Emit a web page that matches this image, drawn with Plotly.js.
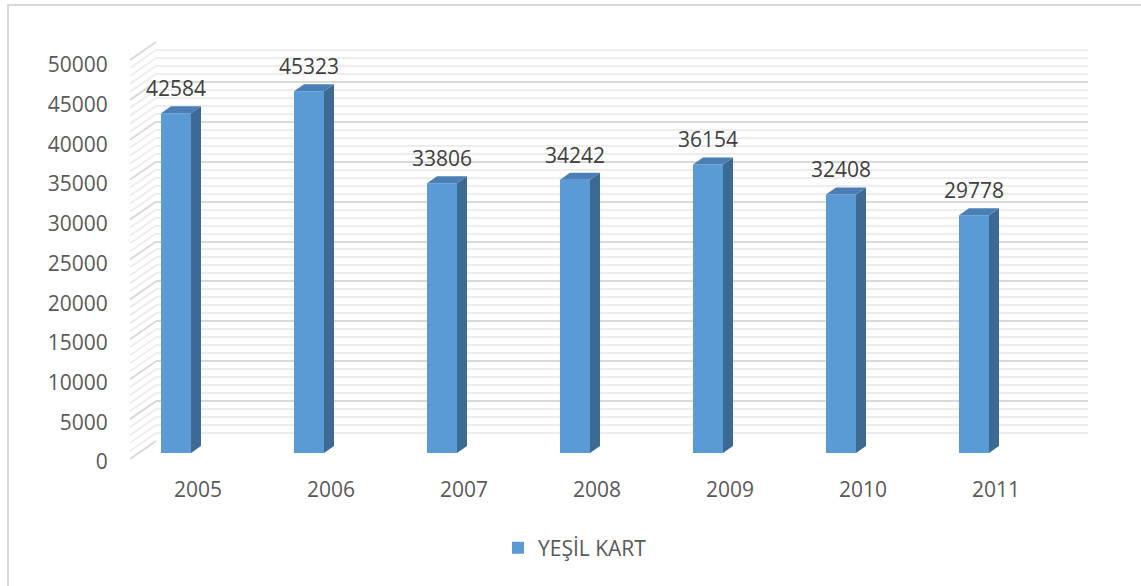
<!DOCTYPE html>
<html>
<head>
<meta charset="utf-8">
<script src="https://cdn.plot.ly/plotly-3.0.1.min.js"></script>
<style>html,body{margin:0;padding:0;background:#fff;}#chart{width:1141px;height:586px;}</style>
</head>
<body>
<div id="chart"></div>
<script>
// ---- data ----
const years = ['2005', '2006', '2007', '2008', '2009', '2010', '2011'];
const values = [42584, 45323, 33806, 34242, 36154, 32408, 29778];
const seriesName = 'YEŞİL KART';
const yMax = 50000;
const majorStep = 5000;
const minorStep = 1000;

// ---- geometry (pixels) ----
const W = 1141, H = 586;
const catStep = 133;          // px per category
const barCenter0 = 176;       // px of first bar centre (front face)
const labelCenter0 = 198;     // px of first category label
const barPx = 30;             // front face width
const depthX = 10, depthY = 7;// bar depth offsets (px)
const barBase = 453, barTop = 54;       // bar plane: 0 and yMax
const wallBase = 441, wallTop = 42;     // back wall
const wallLeft = 156, wallRight = 1088;
const frontBase = 462, frontTop = 65;   // front plane (tick labels)
const wallDX = -26, wallDY = 18;        // left wall depth

const fy = p => 1 - p / H;
const fx = p => p / W;

const unitX = 1 / catStep;
const unitY = yMax / (barBase - barTop);
const xs = years.map((_, i) => i);
const bw = barPx * unitX;
const dxD = depthX * unitX, dyD = depthY * unitY;

const traces = [];
// back wall subplot (drawn first, underneath)
traces.push({type: 'scatter', x: [], y: [], xaxis: 'x', yaxis: 'y', showlegend: false, hoverinfo: 'skip'});
// bars
traces.push({
  type: 'bar', x: xs, y: values, name: seriesName,
  width: bw, marker: {color: '#5B9BD5'},
  xaxis: 'x2', yaxis: 'y2', hoverinfo: 'skip'
});
// label axes
traces.push({type: 'scatter', x: [], y: [], xaxis: 'x3', yaxis: 'y3', showlegend: false, hoverinfo: 'skip'});

const shapes = [];
// outer border
shapes.push({type: 'rect', xref: 'paper', yref: 'paper', x0: fx(8), x1: fx(1150), y0: fy(5), y1: fy(600),
  line: {color: '#d9d9d9', width: 2}, layer: 'below'});
// left wall diagonals (gridlines of the side wall)
for (let v = 0; v <= yMax; v += minorStep) {
  const major = v % majorStep === 0;
  const py = wallBase - v * (wallBase - wallTop) / yMax;
  shapes.push({type: 'line', xref: 'paper', yref: 'paper',
    x0: fx(wallLeft), y0: fy(py), x1: fx(wallLeft + wallDX), y1: fy(py + wallDY),
    line: {color: major ? '#d9d9d9' : '#ededed', width: 2}, layer: 'below'});
}
// bar 3D faces
values.forEach((v, i) => {
  const xl = i - bw / 2, xr = i + bw / 2;
  shapes.push({type: 'path', xref: 'x2', yref: 'y2', layer: 'above',
    path: `M${xr},0 L${xr + dxD},${dyD} L${xr + dxD},${v + dyD} L${xr},${v} Z`,
    fillcolor: '#3D6A92', line: {width: 0}});
  shapes.push({type: 'path', xref: 'x2', yref: 'y2', layer: 'above',
    path: `M${xl},${v} L${xl + dxD},${v + dyD} L${xr + dxD},${v + dyD} L${xr},${v} Z`,
    fillcolor: '#4A7EB4', line: {width: 0}});
});

const annotations = values.map((v, i) => ({
  xref: 'x2', yref: 'y2', x: i, y: v, text: String(v), showarrow: false,
  yanchor: 'middle', yshift: 25, font: {family: 'Open Sans', size: 21, color: '#404040'}
}));

const font = {family: 'Open Sans', size: 21, color: '#595959'};
const layout = {
  width: W, height: H,
  margin: {l: 0, r: 0, t: 0, b: 0},
  paper_bgcolor: '#ffffff', plot_bgcolor: 'rgba(0,0,0,0)',
  font: font,
  showlegend: true,
  legend: {orientation: 'h', x: fx(575), xanchor: 'center', y: fy(548), yanchor: 'middle',
    font: font, bgcolor: 'rgba(0,0,0,0)'},
  // back wall
  xaxis: {domain: [fx(wallLeft), fx(wallRight)], range: [0, 1], anchor: 'y',
    showgrid: false, zeroline: false, showticklabels: false, showline: false, ticks: '', fixedrange: true},
  yaxis: {domain: [fy(wallBase), fy(wallTop)], range: [0, yMax], anchor: 'x',
    dtick: majorStep, tick0: 0, showgrid: true, gridcolor: '#d9d9d9', gridwidth: 2,
    minor: {dtick: minorStep, tick0: 0, showgrid: true, gridcolor: '#ededed', gridwidth: 2},
    zeroline: false, showticklabels: false, showline: false, ticks: '', fixedrange: true},
  // bar plane
  xaxis2: {domain: [0, 1], range: [-barCenter0 / catStep, (W - barCenter0) / catStep], anchor: 'y2',
    visible: false, fixedrange: true},
  yaxis2: {domain: [fy(barBase), fy(barTop)], range: [0, yMax], anchor: 'x2', visible: false, fixedrange: true},
  // front plane: labels
  xaxis3: {domain: [0, 1], range: [-labelCenter0 / catStep, (W - labelCenter0) / catStep], anchor: 'y3',
    tickmode: 'array', tickvals: xs, ticktext: years, ticks: 'outside', ticklen: 9,
    tickcolor: 'rgba(0,0,0,0)', showgrid: false, zeroline: false, showline: false,
    tickfont: font},
  yaxis3: {domain: [fy(frontBase), fy(frontTop)], range: [0, yMax], anchor: 'free',
    position: fx(116), dtick: majorStep, tick0: 0, tickformat: 'd', showgrid: false, zeroline: false,
    showline: false, ticks: 'outside', ticklen: 4, tickcolor: 'rgba(0,0,0,0)', tickfont: font},
  shapes: shapes,
  annotations: annotations
};

Plotly.newPlot('chart', traces, layout, {displayModeBar: false, staticPlot: true});
</script>
</body>
</html>
